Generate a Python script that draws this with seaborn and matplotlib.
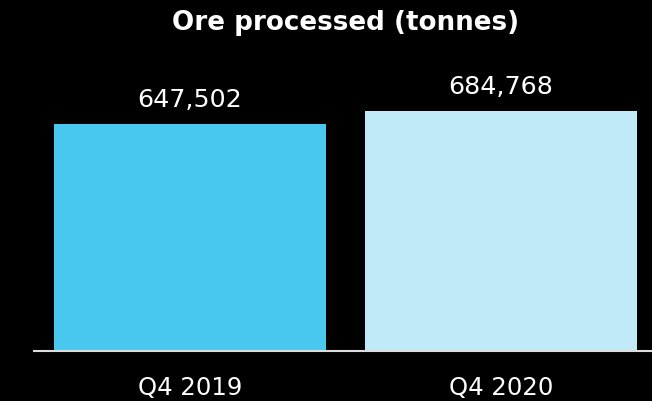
import pandas as pd
import matplotlib
matplotlib.use("Agg")
import matplotlib.pyplot as plt
import seaborn as sns

# datos del gráfico
periodos = ["Q4 2019", "Q4 2020"]
toneladas = [647502, 684768]
colores = ["#48C8EE", "#C0EAF8"]

df = pd.DataFrame({"periodo": periodos, "toneladas": toneladas})

sns.set_style("dark")
plt.rcParams["font.family"] = ["DejaVu Sans"]

fig = plt.figure(figsize=(6.52, 4.02), dpi=100, facecolor="black")
ax = fig.add_axes([0.052, 0.1244, 0.948, 0.7263])
ax.set_facecolor("black")

sns.barplot(data=df, x="periodo", y="toneladas", hue="periodo",
            palette=colores, width=0.875, saturation=1, linewidth=0,
            legend=False, ax=ax)

ax.set_xlim(-0.502, 1.486)
ax.set_ylim(0, 833000)

for i, v in enumerate(toneladas):
    ax.text(i, v + 36000, f"{v:,}", ha="center", va="bottom",
            color="white", fontsize=18.3)

for s in ["top", "right", "left"]:
    ax.spines[s].set_visible(False)
ax.spines["bottom"].set_color("#DDDDDD")
ax.spines["bottom"].set_linewidth(1.5)

ax.set_yticks([])
ax.set_xlabel("")
ax.set_ylabel("")
ax.grid(False)
ax.tick_params(axis="x", length=0, pad=17, labelsize=17.6, labelcolor="white")

fig.text(0.53, 0.942, "Ore processed (tonnes)", ha="center", va="center",
         color="white", fontsize=18.8, fontweight="bold")

fig.savefig("out.png", dpi=100, facecolor="black")
